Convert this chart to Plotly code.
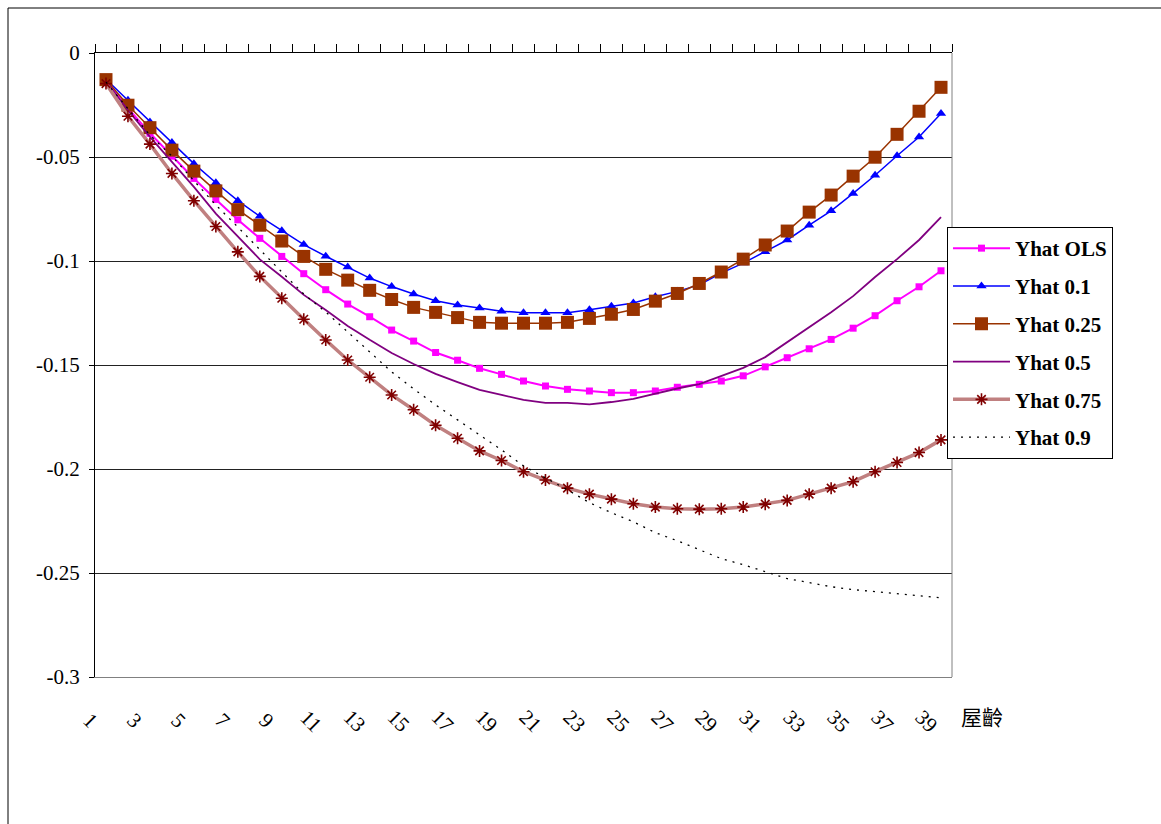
import plotly.graph_objects as go

# ---------------- data ----------------
age = list(range(1, 40))
tick_vals = list(range(1, 40, 2))
tick_text = [str(v) for v in tick_vals]
y_ticks = [0, -0.05, -0.1, -0.15, -0.2, -0.25, -0.3]
y_ticktext = ["0", "-0.05", "-0.1", "-0.15", "-0.2", "-0.25", "-0.3"]
x_title = "屋齡"

yhat_ols = [-0.0132, -0.0265, -0.0386, -0.0496, -0.0603, -0.0704, -0.0802, -0.0891, -0.0978, -0.1061,
            -0.1138, -0.1207, -0.1268, -0.1332, -0.1385, -0.1440, -0.1477, -0.1516, -0.1545, -0.1577,
            -0.1601, -0.1617, -0.1625, -0.1633, -0.1633, -0.1625, -0.1607, -0.1593, -0.1577, -0.1552,
            -0.1509, -0.1465, -0.1422, -0.1377, -0.1323, -0.1263, -0.1191, -0.1124, -0.1047]
yhat_01 = [-0.0126, -0.0227, -0.0332, -0.0430, -0.0532, -0.0624, -0.0710, -0.0785, -0.0854, -0.0921,
           -0.0977, -0.1029, -0.1082, -0.1123, -0.1159, -0.1191, -0.1212, -0.1226, -0.1241, -0.1249,
           -0.1249, -0.1249, -0.1234, -0.1218, -0.1202, -0.1172, -0.1146, -0.1115, -0.1058, -0.1010,
           -0.0956, -0.0899, -0.0828, -0.0759, -0.0675, -0.0588, -0.0494, -0.0404, -0.0291]
yhat_025 = [-0.0128, -0.0251, -0.0359, -0.0467, -0.0568, -0.0663, -0.0753, -0.0828, -0.0904, -0.0978,
            -0.1040, -0.1092, -0.1141, -0.1185, -0.1223, -0.1247, -0.1272, -0.1295, -0.1299, -0.1299,
            -0.1299, -0.1295, -0.1276, -0.1256, -0.1233, -0.1193, -0.1156, -0.1108, -0.1053, -0.0991,
            -0.0923, -0.0856, -0.0765, -0.0683, -0.0592, -0.0501, -0.0391, -0.0280, -0.0165]
yhat_05 = [-0.0136, -0.0275, -0.0403, -0.0524, -0.0644, -0.0772, -0.0884, -0.0992, -0.1076, -0.1163,
           -0.1236, -0.1312, -0.1379, -0.1442, -0.1495, -0.1543, -0.1582, -0.1620, -0.1644, -0.1668,
           -0.1682, -0.1682, -0.1689, -0.1678, -0.1663, -0.1637, -0.1613, -0.1592, -0.1552, -0.1514,
           -0.1462, -0.1390, -0.1317, -0.1246, -0.1169, -0.1077, -0.0991, -0.0899, -0.0789]
yhat_075 = [-0.0147, -0.0304, -0.0438, -0.0579, -0.0710, -0.0834, -0.0956, -0.1074, -0.1179, -0.1280,
            -0.1380, -0.1476, -0.1559, -0.1644, -0.1715, -0.1790, -0.1852, -0.1913, -0.1959, -0.2013,
            -0.2053, -0.2092, -0.2121, -0.2145, -0.2167, -0.2183, -0.2191, -0.2193, -0.2191, -0.2183,
            -0.2169, -0.2151, -0.2121, -0.2092, -0.2061, -0.2013, -0.1969, -0.1921, -0.1860]
yhat_09 = [-0.0140, -0.0270, -0.0395, -0.0496, -0.0611, -0.0731, -0.0837, -0.0947, -0.1053, -0.1159,
           -0.1245, -0.1341, -0.1437, -0.1533, -0.1615, -0.1692, -0.1764, -0.1836, -0.1908, -0.1985,
           -0.2042, -0.2100, -0.2162, -0.2210, -0.2254, -0.2306, -0.2345, -0.2388, -0.2431, -0.2460,
           -0.2494, -0.2527, -0.2546, -0.2566, -0.2580, -0.2590, -0.2599, -0.2609, -0.2619]

# ---------------- figure ----------------
W, H = 1161, 824
L, R, T, B = 95, 952, 53, 677   # plot-area pixel box

SERIF = "Liberation Serif, Times New Roman, serif"

fig = go.Figure()

def add(name, y, color, width, symbol=None, msize=0, mcolor=None, dash="solid", mline=None):
    mode = "lines+markers" if symbol else "lines"
    marker = dict(symbol=symbol or "circle", size=msize, color=mcolor or color,
                  line=dict(width=mline or 0, color=mcolor or color))
    fig.add_trace(go.Scatter(x=age, y=y, name=name, mode=mode, legendgroup=name,
                             line=dict(color=color, width=width, dash=dash),
                             marker=marker))

add("Yhat OLS", yhat_ols, "#FF00FF", 2, "square", 7)
add("Yhat 0.1", yhat_01, "#0000FF", 1.5, "triangle-up", 9)
add("Yhat 0.25", yhat_025, "#993300", 1.5, "square", 13)
add("Yhat 0.5", yhat_05, "#800080", 1.8)
add("Yhat 0.75", yhat_075, "#C08080", 3.5, "asterisk-open", 10, "#800000", mline=1.6)
add("Yhat 0.9", yhat_09, "#000000", 1.3, dash="2px,6px")

# top axis (category boundary ticks)
fig.add_trace(go.Scatter(x=[age[0]], y=[None], xaxis="x2", showlegend=False, hoverinfo="skip"))

pw = R - L
ph = B - T
def px2x(p):
    return (p - L) / pw
def px2y(p):
    return 1 - (p - T) / ph

boundaries = [a - 0.5 for a in age] + [age[-1] + 0.5]

# rotated category labels (text rotated 45° clockwise, centred left of each category)
label_annots = [
    dict(text=t, x=v, xref="x", y=px2y(721), yref="paper", xshift=-15,
         textangle=45, showarrow=False, xanchor="center", yanchor="middle",
         font=dict(family=SERIF, size=21, color="black"))
    for v, t in zip(tick_vals, tick_text)
]

fig.update_layout(
    width=W, height=H, autosize=False,
    margin=dict(l=L, r=W - R, t=T, b=H - B, pad=0),
    paper_bgcolor="white", plot_bgcolor="white",
    showlegend=True,
    xaxis=dict(range=[0.5, 39.5], tickmode="array", tickvals=tick_vals, ticktext=tick_text,
               showticklabels=False, showgrid=False, zeroline=False, showline=True,
               linecolor="#808080", linewidth=1, mirror=False, ticks=""),
    xaxis2=dict(range=[0.5, 39.5], overlaying="x", side="top", tickmode="array",
                tickvals=boundaries, showticklabels=False, ticks="outside", ticklen=8,
                tickcolor="black", tickwidth=1, showline=True, linecolor="black",
                linewidth=1, showgrid=False, zeroline=False),
    yaxis=dict(range=[-0.3, 0], tickmode="array", tickvals=y_ticks, ticktext=y_ticktext,
               showgrid=True, gridcolor="#222222", gridwidth=1, zeroline=False,
               showline=True, linecolor="black", linewidth=1, ticks="outside", ticklen=5,
               tickcolor="black", ticklabelstandoff=5,
               tickfont=dict(family=SERIF, size=21, color="black")),
    legend=dict(x=px2x(947), y=px2y(227), xanchor="left", yanchor="top",
                bordercolor="black", borderwidth=1, bgcolor="white",
                font=dict(family=SERIF, size=21, color="black", weight="bold"),
                itemwidth=57, tracegroupgap=7.5, traceorder="grouped"),
    shapes=[
        # plot-area right border (grey)
        dict(type="line", xref="paper", yref="paper", x0=1, x1=1, y0=0, y1=1,
             line=dict(color="#808080", width=1)),
        # outer chart border (left / top)
        dict(type="line", xref="paper", yref="paper", x0=px2x(8), x1=px2x(8),
             y0=px2y(8), y1=px2y(830), line=dict(color="black", width=1)),
        dict(type="line", xref="paper", yref="paper", x0=px2x(8), x1=px2x(1170),
             y0=px2y(8), y1=px2y(8), line=dict(color="black", width=1)),
    ],
    annotations=label_annots + [
        dict(text=x_title, xref="paper", yref="paper", x=px2x(982), y=px2y(716),
             xanchor="center", yanchor="middle", showarrow=False,
             font=dict(family="Noto Sans CJK TC", size=21, color="black")),
    ],
)

fig.write_html("out.html")
